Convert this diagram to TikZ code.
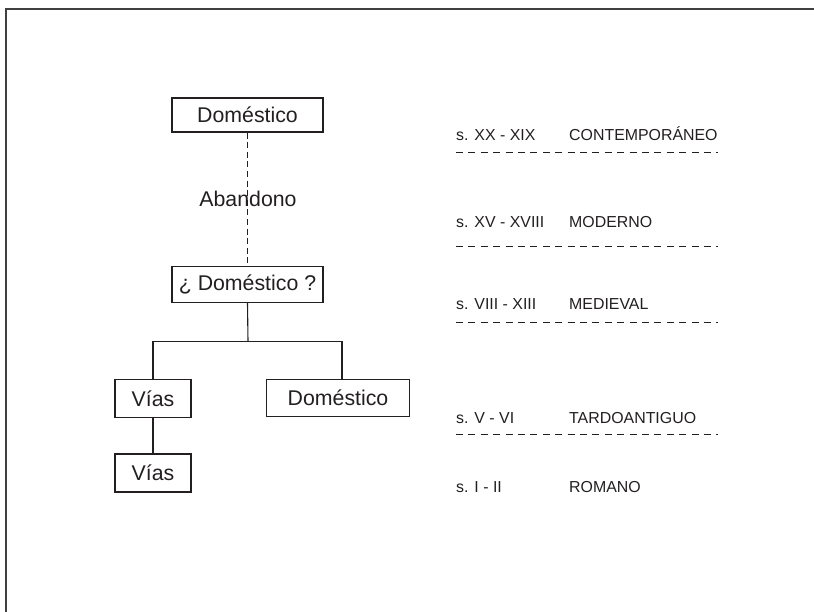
\documentclass[tikz,border=0pt]{standalone}
\usepackage{fontspec}
\setmainfont{Liberation Sans}
\definecolor{ink}{HTML}{231F20}
\tikzset{
  box/.style={draw=ink, line width=1.1pt, text=ink, inner sep=0pt, font=\fontsize{21.3}{25}\selectfont},
  lbl/.style={text=ink, inner sep=0pt, font=\fontsize{21.3}{25}\selectfont},
  per/.style={text=ink, inner sep=0pt, anchor=base west, font=\fontsize{15.9}{19}\selectfont},
  conn/.style={draw=ink, line width=1.1pt},
  dconn/.style={draw=ink, line width=1.2pt, dash pattern=on 6pt off 3.6pt},
  sep/.style={draw=ink, line width=0.9pt, dash pattern=on 7pt off 5.4pt},
}
\begin{document}
\begin{tikzpicture}[x=1pt,y=-1pt]
\useasboundingbox (0,0) rectangle (814,612);
\draw[line width=1.8pt, draw=black!75] (6,613) -- (6,9) -- (815,9);
% nodes
\node[box, minimum width=151pt, minimum height=34pt] (d1) at (247.5,115) {Doméstico};
\node[box, minimum width=151pt, minimum height=36pt] (d2) at (247.5,284.5) {¿ Doméstico ?};
\node[box, minimum width=76pt, minimum height=38pt] (v1) at (153,398.5) {Vías};
\node[box, minimum width=76pt, minimum height=38pt] (v2) at (153,473) {Vías};
\node[box, minimum width=143pt, minimum height=37pt] (d3) at (338,398) {Doméstico};
\coordinate (j) at (248,341.5);
\coordinate (jl) at (153,341.5);
\coordinate (jr) at (342,341.5);
% connectors
\draw[dconn] (d1.south) -- (d2.north);
\node[lbl] (ab) at (248,199) {Abandono};
\draw[conn] (d2.south) -- (j);
\draw[conn] (jl) -- (jr);
\draw[conn] (jl) -- (v1.north);
\draw[conn] (jr) -- (jr |- d3.north);
\draw[conn, line width=1.6pt] (v1.south) -- (v2.north);
% periods
\node[per] (p1) at (456,141) {s. XX - XIX};
\node[per] (n1) at (569,141) {CONTEMPORÁNEO};
\node[per] (p2) at (456,227.3) {s. XV - XVIII};
\node[per] (n2) at (569,227.3) {MODERNO};
\node[per] (p3) at (456,309) {s. VIII - XIII};
\node[per] (n3) at (569,309) {MEDIEVAL};
\node[per] (p4) at (456,423) {s. V - VI};
\node[per] (n4) at (569,423) {TARDOANTIGUO};
\node[per] (p5) at (456,492) {s. I - II};
\node[per] (n5) at (569,492) {ROMANO};
\coordinate (s1a) at (456,152); \coordinate (s1b) at (718,152);
\coordinate (s2a) at (456,246); \coordinate (s2b) at (718,246);
\coordinate (s3a) at (456,322); \coordinate (s3b) at (718,322);
\coordinate (s4a) at (456,434.3); \coordinate (s4b) at (718,434.3);
\draw[sep] (s1a) -- (s1b);
\draw[sep] (s2a) -- (s2b);
\draw[sep] (s3a) -- (s3b);
\draw[sep] (s4a) -- (s4b);
\end{tikzpicture}
\end{document}
